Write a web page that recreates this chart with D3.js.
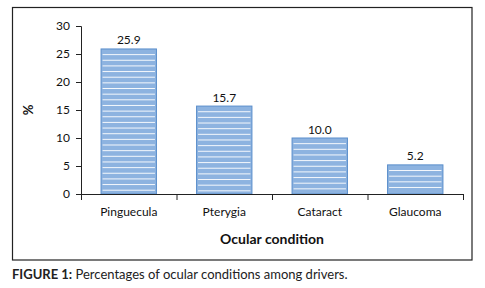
<!DOCTYPE html>
<html><head><meta charset="utf-8">
<script src="https://cdn.jsdelivr.net/npm/d3@7"></script>
<style>body{margin:0;background:#fff;} text{font-family:Lato,"Open Sans",sans-serif;}</style>
</head><body>
<svg id="c" width="485" height="288"></svg>
<script>
const categories = ["Pinguecula", "Pterygia", "Cataract", "Glaucoma"];
const values = [25.9, 15.7, 10.0, 5.2];
const yTicks = [0, 5, 10, 15, 20, 25, 30];
const xTitle = "Ocular condition";
const yTitle = "%";
const captionBold = "FIGURE 1:";
const captionText = " Percentages of ocular conditions among drivers.";

const svg = d3.select("#c");
const m = {l: 81, r: 463, t: 26, b: 194};
const x = d3.scaleBand().domain(categories).range([m.l, m.r]).paddingInner(0.42).paddingOuter(0.21);
const y = d3.scaleLinear().domain([0, 30]).range([m.b, m.t]);

// frame
svg.append("rect").attr("x", 12.5).attr("y", 7.5).attr("width", 459.5).attr("height", 252.5)
  .attr("fill", "none").attr("stroke", "#222").attr("stroke-width", 1.2);

// bars
const g = svg.append("g");
categories.forEach((c, i) => {
  const bx = x(c), bw = x.bandwidth(), top = y(values[i]), bot = y(0);
  g.append("rect").attr("x", bx).attr("y", top).attr("width", bw).attr("height", bot - top)
    .attr("fill", "#8db3e0").attr("stroke", "#5a8ecb").attr("stroke-width", 1);
  const step = 5.65;
  d3.range(top + step, bot - 1, step).forEach(yy => {
    g.append("line").attr("x1", bx + 1.5).attr("x2", bx + bw - 1.5)
      .attr("y1", yy).attr("y2", yy).attr("stroke", "#fff").attr("stroke-width", 1).attr("stroke-opacity", 0.9);
  });
  g.append("text").attr("x", bx + bw / 2).attr("y", top - 4.5).attr("text-anchor", "middle")
    .attr("font-size", 12).attr("fill", "#111").text(values[i].toFixed(1));
});

// y axis
const ya = svg.append("g").attr("transform", `translate(${m.l},0)`)
  .call(d3.axisLeft(y).tickValues(yTicks).tickSize(5).tickPadding(6).tickFormat(d3.format("d")));
ya.select(".domain").attr("stroke", "#222").attr("d", `M-5,${m.t}.5H0.5V${m.b}.5`);
ya.selectAll(".tick line").attr("stroke", "#222");
ya.selectAll("text").attr("font-size", 12).attr("fill", "#111").style("font-family", "Lato");

// x axis
const xa = svg.append("g").attr("transform", `translate(0,${m.b})`)
  .call(d3.axisBottom(x).tickSize(0).tickPadding(13));
xa.select(".domain").attr("stroke", "#222").attr("d", `M${m.l},0.5H${m.r}`);
xa.selectAll("text").attr("font-size", 12).attr("fill", "#111").style("font-family", "Lato");
const bounds = [m.l, ...categories.map(c => x(c) + x.bandwidth() / 2 + x.step() / 2)];
xa.selectAll(".sep").data(bounds).enter().append("line")
  .attr("x1", d => d + 0.5).attr("x2", d => d + 0.5).attr("y1", 0).attr("y2", 6).attr("stroke", "#222");

// titles
svg.append("text").attr("x", (m.l + m.r) / 2).attr("y", 244).attr("text-anchor", "middle")
  .attr("font-size", 14).attr("font-weight", "bold").attr("fill", "#111").text(xTitle);
svg.append("text").attr("transform", "translate(33,110) rotate(-90)").attr("text-anchor", "middle")
  .attr("font-size", 13).attr("font-weight", "bold").attr("fill", "#111").text(yTitle);

// caption
const cap = svg.append("text").attr("x", 12).attr("y", 279).attr("font-size", 13).attr("fill", "#222");
cap.append("tspan").attr("font-weight", "bold").text(captionBold);
cap.append("tspan").text(captionText);
</script>
</body></html>
